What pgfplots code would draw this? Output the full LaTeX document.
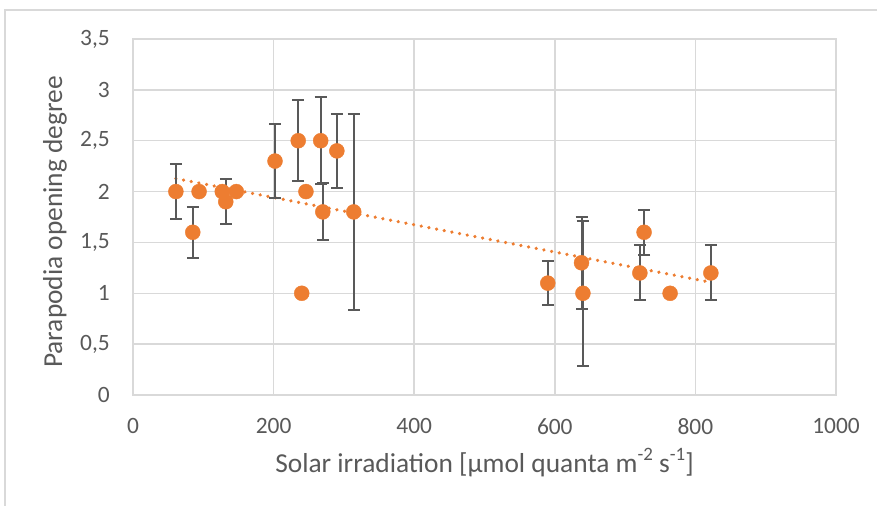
\documentclass[border=0pt]{standalone}
\usepackage{fontspec}
\setmainfont{Carlito}
\usepackage{pgfplots}
\pgfplotsset{compat=1.18}
\usepackage{pgfplotstable}

\definecolor{dotorange}{HTML}{ED7D31}
\definecolor{bargray}{HTML}{595959}
\definecolor{gridgray}{HTML}{D9D9D9}
\definecolor{textgray}{HTML}{595959}

\newcommand{\unitexp}[1]{\raisebox{0.42em}{\fontsize{19}{21}\selectfont #1}}

% irradiation, opening degree, standard deviation
\pgfplotstableread{
x   y    e
61  2.0  0.27
85  1.6  0.25
132 1.9  0.22
202 2.3  0.36
235 2.5  0.40
267 2.5  0.43
270 1.8  0.28
290 2.4  0.36
314 1.8  0.96
590 1.1  0.22
638 1.3  0.45
640 1.0  0.71
721 1.2  0.27
727 1.6  0.22
822 1.2  0.27
}\witherr

% single observations without spread
\pgfplotstableread{
x   y
94  2.0
127 2.0
147 2.0
240 1.0
246 2.0
764 1.0
}\noerr

\begin{document}
\begin{tikzpicture}
\begin{axis}[
  at={(0,0)}, anchor=south west,
  scale only axis,
  width=703bp, height=356bp,
  xmin=0, xmax=1000, ymin=0, ymax=3.5,
  xtick={0,200,...,1000},
  ytick={0,0.5,...,3.5},
  grid=major,
  major grid style={draw=gridgray, line width=1.5bp},
  axis line style={draw=gridgray, line width=1.5bp},
  major tick length=0pt,
  tick label style={font=\fontsize{23.5}{27}\selectfont, text=textgray},
  /pgf/number format/assume math mode=true,
  /pgf/number format/use comma,
  /pgf/number format/1000 sep={},
  yticklabel style={inner sep=0pt, xshift=-23bp},
  xticklabel style={inner sep=0pt, yshift=-23bp},
  label style={font=\fontsize{27.5}{32}\selectfont, text=textgray},
  xlabel={Solar irradiation [µmol quanta m\unitexp{-2} s\unitexp{-1}]},
  ylabel={Parapodia opening degree},
  xlabel style={at={(axis description cs:0.5,-0.19)}, anchor=center},
  ylabel style={at={(axis description cs:-0.111,0.486)}, anchor=center},
  clip=false,
]
% linear trend
\addplot[dotorange, line width=3.6bp, line cap=round,
  dash pattern=on 0.01bp off 7.8bp]
  coordinates {(61,2.128) (822,1.108)};
% means with error bars
\addplot[only marks, mark=*, mark size=7.5bp,
  mark options={fill=dotorange, draw=dotorange},
  error bars/.cd, y dir=both, y explicit,
  error mark=|,
  error bar style={bargray, line width=2bp},
  error mark options={bargray, line width=2bp, mark size=6bp}]
  table[x=x, y=y, y error=e] {\witherr};
\addplot[only marks, mark=*, mark size=7.5bp,
  mark options={fill=dotorange, draw=dotorange}]
  table[x=x, y=y] {\noerr};
\end{axis}
\draw[gridgray, line width=1.5bp] (-128bp,-111bp) -- (-128bp,385bp) -- (744bp,385bp);
\pgfresetboundingbox
\useasboundingbox (-133bp,-111bp) rectangle (744bp,395bp);
\end{tikzpicture}
\end{document}
